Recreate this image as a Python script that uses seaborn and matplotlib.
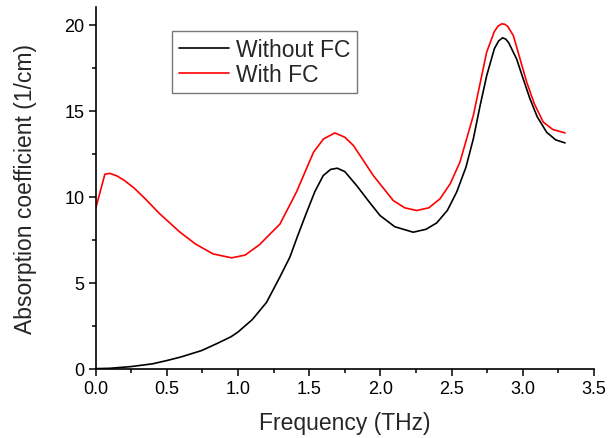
import matplotlib
matplotlib.use("Agg")
import matplotlib.pyplot as plt
from matplotlib.ticker import MultipleLocator
import seaborn as sns
import pandas as pd

# Without FC
freq_without = [0.0, 0.1, 0.25, 0.4, 0.5, 0.6, 0.744, 0.85, 0.95, 1.0, 1.1, 1.2, 1.294,
                1.364, 1.42, 1.482, 1.54, 1.598, 1.65, 1.697, 1.75, 1.833, 1.92, 1.997,
                2.1, 2.23, 2.32, 2.395, 2.47, 2.535, 2.6, 2.652, 2.7, 2.746, 2.8, 2.83,
                2.858, 2.88, 2.9, 2.956, 3.0, 3.05, 3.1, 3.167, 3.23, 3.296]
abs_without = [0.0, 0.02, 0.12, 0.28, 0.47, 0.68, 1.05, 1.45, 1.85, 2.13, 2.85, 3.85, 5.33,
               6.48, 7.75, 9.09, 10.3, 11.22, 11.58, 11.65, 11.45, 10.64, 9.7, 8.9,
               8.25, 7.93, 8.1, 8.47, 9.2, 10.26, 11.7, 13.35, 15.3, 17.03, 18.6, 19.05,
               19.23, 19.15, 18.95, 18.0, 16.9, 15.68, 14.65, 13.74, 13.3, 13.12]

# With FC
freq_with = [0.0, 0.065, 0.1, 0.15, 0.2, 0.27, 0.345, 0.45, 0.59, 0.7, 0.824, 0.955,
             1.05, 1.15, 1.294, 1.41, 1.53, 1.6, 1.68, 1.75, 1.81, 1.88, 1.95, 2.09,
             2.17, 2.254, 2.34, 2.418, 2.49, 2.558, 2.652, 2.746, 2.8, 2.825, 2.851,
             2.872, 2.893, 2.933, 3.027, 3.08, 3.143, 3.21, 3.296]
abs_with = [9.3, 11.3, 11.35, 11.2, 10.95, 10.5, 9.9, 9.0, 7.95, 7.25, 6.67, 6.44,
            6.6, 7.2, 8.4, 10.26, 12.58, 13.35, 13.7, 13.45, 12.97, 12.1, 11.22, 9.77,
            9.35, 9.19, 9.35, 9.87, 10.75, 12.0, 14.71, 18.4, 19.6, 19.9, 20.04,
            20.02, 19.9, 19.36, 16.65, 15.4, 14.33, 13.9, 13.7]

series_names = ["Without FC", "With FC"]
series_colors = ["black", "red"]

df = pd.concat([
    pd.DataFrame({"freq": freq_without, "abs": abs_without, "series": series_names[0]}),
    pd.DataFrame({"freq": freq_with, "abs": abs_with, "series": series_names[1]}),
], ignore_index=True)

sns.set_style("ticks")
plt.rcParams["font.family"] = ["Liberation Sans", "DejaVu Sans"]

fig = plt.figure(figsize=(6.09, 4.39), dpi=100)
ax = fig.add_axes([0.157, 0.158, 0.8185, 0.823])

sns.lineplot(data=df, x="freq", y="abs", hue="series", hue_order=series_names,
             palette=dict(zip(series_names, series_colors)), sort=False,
             errorbar=None, linewidth=1.2, ax=ax)

ax.set_xlim(0, 3.5)
ax.set_ylim(0, 21)
ax.xaxis.set_major_locator(MultipleLocator(0.5))
ax.xaxis.set_minor_locator(MultipleLocator(0.25))
ax.yaxis.set_major_locator(MultipleLocator(5))
ax.yaxis.set_minor_locator(MultipleLocator(2.5))
ax.set_xticks([0, 0.5, 1.0, 1.5, 2.0, 2.5, 3.0, 3.5])
ax.set_xticklabels(["0.0", "0.5", "1.0", "1.5", "2.0", "2.5", "3.0", "3.5"])

for s in ["top", "right"]:
    ax.spines[s].set_visible(False)
for s in ["left", "bottom"]:
    ax.spines[s].set_linewidth(1.2)
    ax.spines[s].set_color("black")

ax.tick_params(axis="both", which="major", direction="out", length=5, width=1.1,
               labelsize=13, colors="black", pad=3)
ax.tick_params(axis="both", which="minor", direction="out", length=3, width=1.1,
               colors="black")

ax.set_xlabel("Frequency (THz)", fontsize=16.5, labelpad=10)
ax.set_ylabel("Absorption coefficient (1/cm)", fontsize=16.5, labelpad=20)

leg = ax.legend(loc="upper left", bbox_to_anchor=(0.153, 0.935), borderaxespad=0,
                frameon=True, fancybox=False, fontsize=16.5, handlelength=2.2,
                handletextpad=0.3, borderpad=0.3, labelspacing=0.12)
leg.get_frame().set_edgecolor("#555555")
leg.get_frame().set_linewidth(1.0)
for line in leg.get_lines():
    line.set_linewidth(1.2)

fig.savefig("out.png", dpi=100)
